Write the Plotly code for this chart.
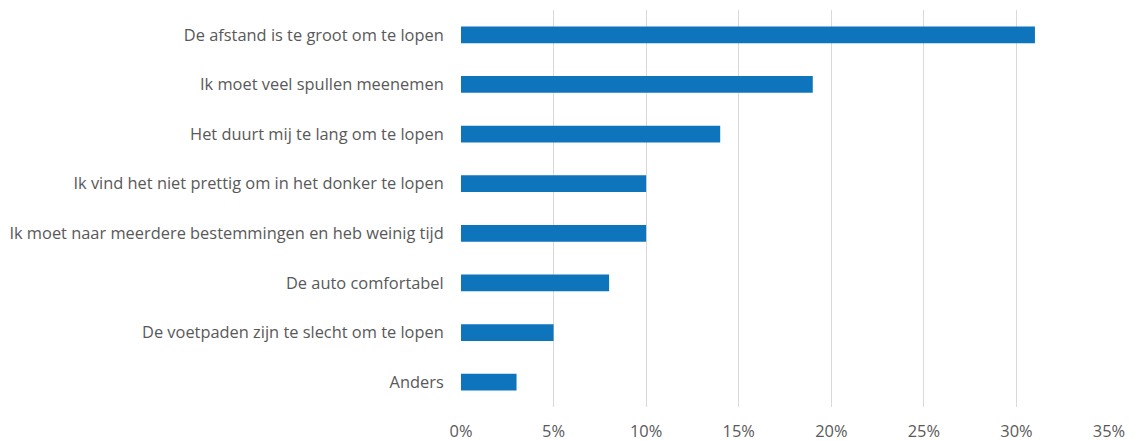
import plotly.graph_objects as go

# Reasons given for not walking (share of respondents)
reasons = [
    "De afstand is te groot om te lopen",
    "Ik moet veel spullen meenemen",
    "Het duurt mij te lang om te lopen",
    "Ik vind het niet prettig om in het donker te lopen",
    "Ik moet naar meerdere bestemmingen en heb weinig tijd",
    "De auto comfortabel",
    "De voetpaden zijn te slecht om te lopen",
    "Anders",
]
shares = [0.31, 0.19, 0.14, 0.10, 0.10, 0.08, 0.05, 0.03]
tick_values = [0, 0.05, 0.10, 0.15, 0.20, 0.25, 0.30, 0.35]

text_color = "#595959"
font_family = "Open Sans"
font_size = 16.4

fig = go.Figure(
    go.Bar(
        x=shares,
        y=reasons,
        orientation="h",
        marker=dict(color="#0E75BC", line=dict(width=0)),
        width=0.34,
        hoverinfo="skip",
    )
)

fig.update_layout(
    width=1135,
    height=441,
    margin=dict(l=461, r=26, t=10, b=34),
    paper_bgcolor="white",
    plot_bgcolor="white",
    showlegend=False,
    font=dict(family=font_family, size=font_size, color=text_color),
)

fig.update_xaxes(
    range=[0, 0.35],
    tickvals=tick_values,
    tickformat=".0%",
    showgrid=True,
    gridcolor="#D9D9D9",
    gridwidth=1,
    zeroline=False,
    showline=False,
    ticks="outside",
    ticklen=9,
    tickcolor="rgba(0,0,0,0)",
    tickfont=dict(family=font_family, size=font_size, color=text_color),
    automargin=False,
)

fig.update_yaxes(
    categoryorder="array",
    categoryarray=list(reversed(reasons)),
    showgrid=False,
    zeroline=False,
    showline=False,
    ticks="outside",
    ticklen=13,
    tickcolor="rgba(0,0,0,0)",
    tickfont=dict(family=font_family, size=font_size, color=text_color),
    automargin=False,
)

fig.write_html("out.html")
